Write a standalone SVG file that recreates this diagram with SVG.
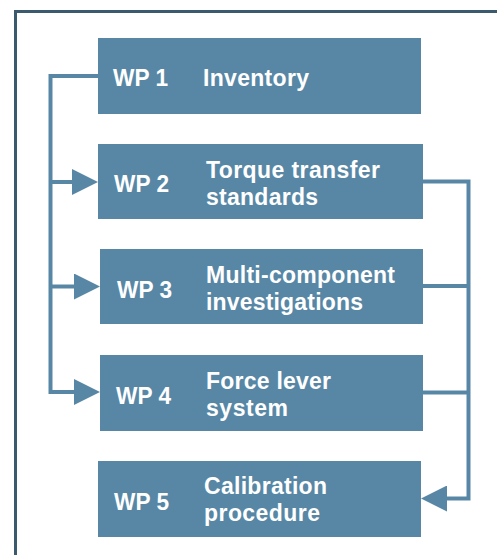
<svg xmlns="http://www.w3.org/2000/svg" width="497" height="555" viewBox="0 0 497 555">
<style>
.box{fill:#5787a5}
.t{font-family:"Liberation Sans",Arial,sans-serif;font-weight:bold;font-size:23px;fill:#ffffff}
.c{fill:none;stroke:#5887a5;stroke-width:4;stroke-linejoin:miter}
</style>
<defs>
<marker id="ah" markerUnits="userSpaceOnUse" markerWidth="26" markerHeight="26" refX="0" refY="13" orient="auto">
<path d="M0,0 L26,13 L0,26 Z" fill="#5887a5"/>
</marker>
</defs>
<rect x="15.5" y="11.5" width="500" height="560" fill="#ffffff" stroke="#3b5a6d" stroke-width="3"/>
<g id="connectors">
<path class="c" d="M98,76 H50.5 V392 H74" marker-end="url(#ah)"/>
<path class="c" d="M50.5,182 H72" marker-end="url(#ah)"/>
<path class="c" d="M50.5,286.5 H74" marker-end="url(#ah)"/>
<path class="c" d="M423,181.5 H468.5 V498.5 H447" marker-end="url(#ah)"/>
<path class="c" d="M423,286 H468.5"/>
<path class="c" d="M423,392.5 H468.5"/>
</g>
<g id="wp1">
<rect class="box" x="98" y="38" width="323" height="76"/>
<text class="t" x="113" y="86" textLength="55" lengthAdjust="spacingAndGlyphs">WP 1</text>
<text class="t" x="203" y="86" textLength="106" lengthAdjust="spacing">Inventory</text>
</g>
<g id="wp2">
<rect class="box" x="98" y="144" width="325" height="75"/>
<text class="t" x="114" y="192" textLength="55" lengthAdjust="spacingAndGlyphs">WP 2</text>
<text class="t" x="206" y="178" textLength="174" lengthAdjust="spacing">Torque transfer</text>
<text class="t" x="206" y="205" textLength="112" lengthAdjust="spacing">standards</text>
</g>
<g id="wp3">
<rect class="box" x="100" y="249" width="323" height="75"/>
<text class="t" x="117" y="298" textLength="55" lengthAdjust="spacingAndGlyphs">WP 3</text>
<text class="t" x="206" y="283" textLength="189" lengthAdjust="spacing">Multi-component</text>
<text class="t" x="206" y="310" textLength="157" lengthAdjust="spacing">investigations</text>
</g>
<g id="wp4">
<rect class="box" x="100" y="355" width="323" height="76"/>
<text class="t" x="116" y="404" textLength="55" lengthAdjust="spacingAndGlyphs">WP 4</text>
<text class="t" x="206" y="389" textLength="125" lengthAdjust="spacing">Force lever</text>
<text class="t" x="206" y="416" textLength="82" lengthAdjust="spacing">system</text>
</g>
<g id="wp5">
<rect class="box" x="98" y="461" width="323" height="76"/>
<text class="t" x="114" y="510" textLength="55" lengthAdjust="spacingAndGlyphs">WP 5</text>
<text class="t" x="204" y="494" textLength="123" lengthAdjust="spacing">Calibration</text>
<text class="t" x="204" y="521" textLength="116" lengthAdjust="spacing">procedure</text>
</g>
</svg>
